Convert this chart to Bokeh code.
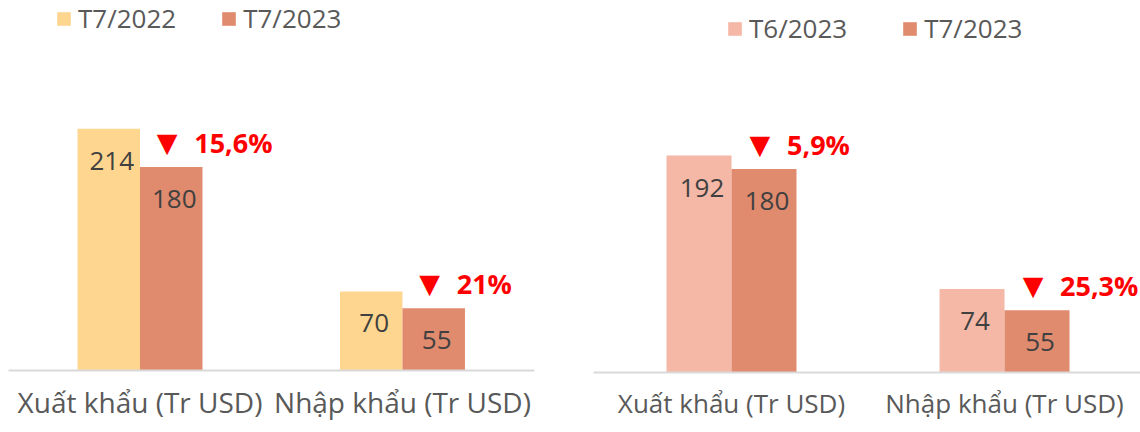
from bokeh.plotting import figure
from bokeh.layouts import row
from bokeh.models import Range1d, FixedTicker, Legend, LegendItem, ColumnDataSource
from bokeh.transform import dodge
from bokeh.core.properties import value
from bokeh.embed import file_html
from bokeh.resources import INLINE

# ---------------- data ----------------
categories = ["Xuất khẩu (Tr USD)", "Nhập khẩu (Tr USD)"]

left_series = ["T7/2022", "T7/2023"]
left_prev = [214, 70]
left_curr = [180, 55]
left_change = ["15,6%", "21%"]

right_series = ["T6/2023", "T7/2023"]
right_prev = [192, 74]
right_curr = [180, 55]
right_change = ["5,9%", "25,3%"]

FONT = "Open Sans"
TEXT_GRAY = "#595959"
VALUE_GRAY = "#404040"
YELLOW = "#FFD68F"
SALMON = "#E08A6E"
LIGHT_SALMON = "#F5B8A6"
RED = "#FF0000"

BAR_W = 0.238
OFF = BAR_W / 2


def panel(series, prev, curr, change, prev_color, curr_color,
          frame_w, frame_h, x_start, x_end, border_left, border_right,
          label_size, legend_loc, legend_spacing):
    idx = list(range(len(categories)))
    src = ColumnDataSource(dict(
        x=idx, prev=prev, curr=curr,
        prev_lbl=[str(v) for v in prev],
        curr_lbl=[str(v) for v in curr],
        arrow=["▼" for _ in change],
        chg=list(change),
    ))
    p = figure(frame_width=frame_w, frame_height=frame_h,
               x_range=Range1d(x_start, x_end),
               y_range=Range1d(0, frame_h / 1.13),
               output_backend="svg", toolbar_location=None,
               min_border_left=border_left, min_border_top=0,
               min_border_right=border_right, min_border_bottom=30)
    r1 = p.vbar(x=dodge("x", -OFF), top="prev", width=BAR_W, source=src,
                fill_color=prev_color, line_color=None)
    r2 = p.vbar(x=dodge("x", OFF), top="curr", width=BAR_W, source=src,
                fill_color=curr_color, line_color=None)

    common = dict(text_font=value(FONT), text_font_size="26px",
                  text_color=VALUE_GRAY, text_align="center",
                  text_baseline="alphabetic", x_offset=3, y_offset=32,
                  source=src)
    p.text(x=dodge("x", -OFF), y="prev", text="prev_lbl", **common)
    p.text(x=dodge("x", OFF), y="curr", text="curr_lbl", **common)

    p.text(x=dodge("x", OFF), y="curr", text="arrow", source=src,
           text_font=value("DejaVu Sans"), text_font_size="27px",
           text_color=RED, text_align="center", text_baseline="alphabetic",
           x_offset=-4, y_offset=-25)
    p.text(x=dodge("x", OFF), y="curr", text="chg", source=src,
           text_font=value(FONT), text_font_style="bold",
           text_font_size="27px", text_color=RED,
           text_align="left", text_baseline="alphabetic",
           x_offset=23, y_offset=-25)

    legend = Legend(items=[LegendItem(label=series[0], renderers=[r1]),
                           LegendItem(label=series[1], renderers=[r2])],
                    orientation="horizontal", location=legend_loc,
                    border_line_color=None, background_fill_alpha=0,
                    padding=0, margin=0, glyph_width=17, glyph_height=17,
                    label_standoff=6, spacing=legend_spacing,
                    label_text_font=FONT, label_text_font_size="26px",
                    label_text_color=TEXT_GRAY)
    p.add_layout(legend)

    p.xaxis.ticker = FixedTicker(ticks=idx)
    p.xaxis.major_label_overrides = {i: c for i, c in enumerate(categories)}
    p.xaxis.axis_line_color = "#D9D9D9"
    p.xaxis.axis_line_width = 2
    p.xaxis.major_tick_line_color = None
    p.xaxis.minor_tick_line_color = None
    p.xaxis.major_label_text_font = FONT
    p.xaxis.major_label_text_font_size = label_size
    p.xaxis.major_label_text_color = TEXT_GRAY
    p.xaxis.major_label_standoff = 6
    p.yaxis.visible = False
    p.xgrid.visible = False
    p.ygrid.visible = False
    p.outline_line_color = None
    p.background_fill_color = None
    p.border_fill_color = None
    return p


p1 = panel(left_series, left_prev, left_curr, left_change, YELLOW, SALMON,
           526, 370, -0.501, 1.503, 8, 59, "28px", (47, 334), 44)
p2 = panel(right_series, right_prev, right_curr, right_change, LIGHT_SALMON,
           SALMON, 547, 372, -0.5055, 1.498, 0, 0, "26px", (133, 326), 54)

layout = row(p1, p2, spacing=0)
open("out.html", "w").write(file_html(layout, INLINE))
